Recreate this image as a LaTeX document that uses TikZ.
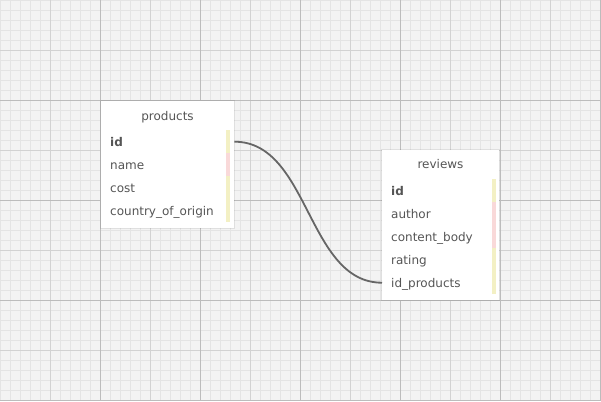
\documentclass[tikz,border=0pt]{standalone}
\usepackage{fontspec}
\setmainfont{DejaVu Sans}
\definecolor{bgc}{HTML}{F3F3F3}
\definecolor{minorc}{HTML}{E4E4E4}
\definecolor{midc}{HTML}{D2D2D2}
\definecolor{majorc}{HTML}{BCBCBC}
\definecolor{txtc}{HTML}{555555}
\definecolor{yel}{HTML}{F3F0C4}
\definecolor{pnk}{HTML}{F9D9D9}
\definecolor{linkc}{HTML}{666666}
\begin{document}
\begin{tikzpicture}[x=1pt,y=-1pt,
  tbox/.style={draw=none,fill=white},
  tshadow/.style={fill=black,opacity=0.08},
  ttitle/.style={text=txtc,font=\fontsize{12}{14}\selectfont,inner sep=0pt,text height=9,text depth=2.5},
  trow/.style={anchor=north west,minimum height=23,inner xsep=9,inner ysep=0pt,
    text height=11.5,text depth=2.5,
    text=txtc,font=\fontsize{12}{14}\selectfont,align=left},
  link/.style={draw=linkc,line width=1.8}]
\useasboundingbox (0,0) rectangle (601,401);
\fill[bgc] (0,0) rectangle (601,401);
\foreach \i in {0,10,...,600} \draw[minorc,line width=1] (\i+0.5,0) -- (\i+0.5,401);
\foreach \i in {0,10,...,400} \draw[minorc,line width=1] (0,\i+0.5) -- (601,\i+0.5);
\foreach \i in {50,150,...,550} \draw[midc,line width=1] (\i+0.5,0) -- (\i+0.5,401);
\foreach \i in {50,150,...,350} \draw[midc,line width=1] (0,\i+0.5) -- (601,\i+0.5);
\foreach \i in {100,200,...,600} \draw[majorc,line width=1] (\i+0.5,0) -- (\i+0.5,401);
\foreach \i in {100,200,...,400} \draw[majorc,line width=1] (0,\i+0.5) -- (601,\i+0.5);
% products table
\fill[tshadow] (100,100) rectangle (235,229);
\node[tbox,anchor=north west,minimum width=133,minimum height=127,inner sep=0pt] (products) at (101,101) {};
\node[ttitle] (products-title) at (167.5,117) {products};
\fill[yel] (226,130) rectangle (230,153);
\fill[pnk] (226,153) rectangle (230,176);
\fill[yel] (226,176) rectangle (230,222);
\node[trow,text width=115] (p-id) at (101,130) {\textbf{id}};
\node[trow,text width=115] (p-name) at (101,153) {name};
\node[trow,text width=115] (p-cost) at (101,176) {cost};
\node[trow,text width=115] (p-country) at (101,199) {country\_of\_origin};
% reviews table
\fill[tshadow] (381,149) rectangle (500,301);
\node[tbox,anchor=north west,minimum width=117,minimum height=150,inner sep=0pt] (reviews) at (382,150) {};
\node[ttitle] (reviews-title) at (440.5,165) {reviews};
\fill[yel] (492,179) rectangle (496,202);
\fill[pnk] (492,202) rectangle (496,248);
\fill[yel] (492,248) rectangle (496,294);
\node[trow,text width=99] (r-id) at (382,179) {\textbf{id}};
\node[trow,text width=99] (r-author) at (382,202) {author};
\node[trow,text width=99] (r-content) at (382,225) {content\_body};
\node[trow,text width=99] (r-rating) at (382,248) {rating};
\node[trow,text width=99] (r-idp) at (382,271) {id\_products};
% connector
\draw[link] (p-id.east) .. controls +(75,0) and +(-75,0) .. (r-idp.west);
\end{tikzpicture}
\end{document}
